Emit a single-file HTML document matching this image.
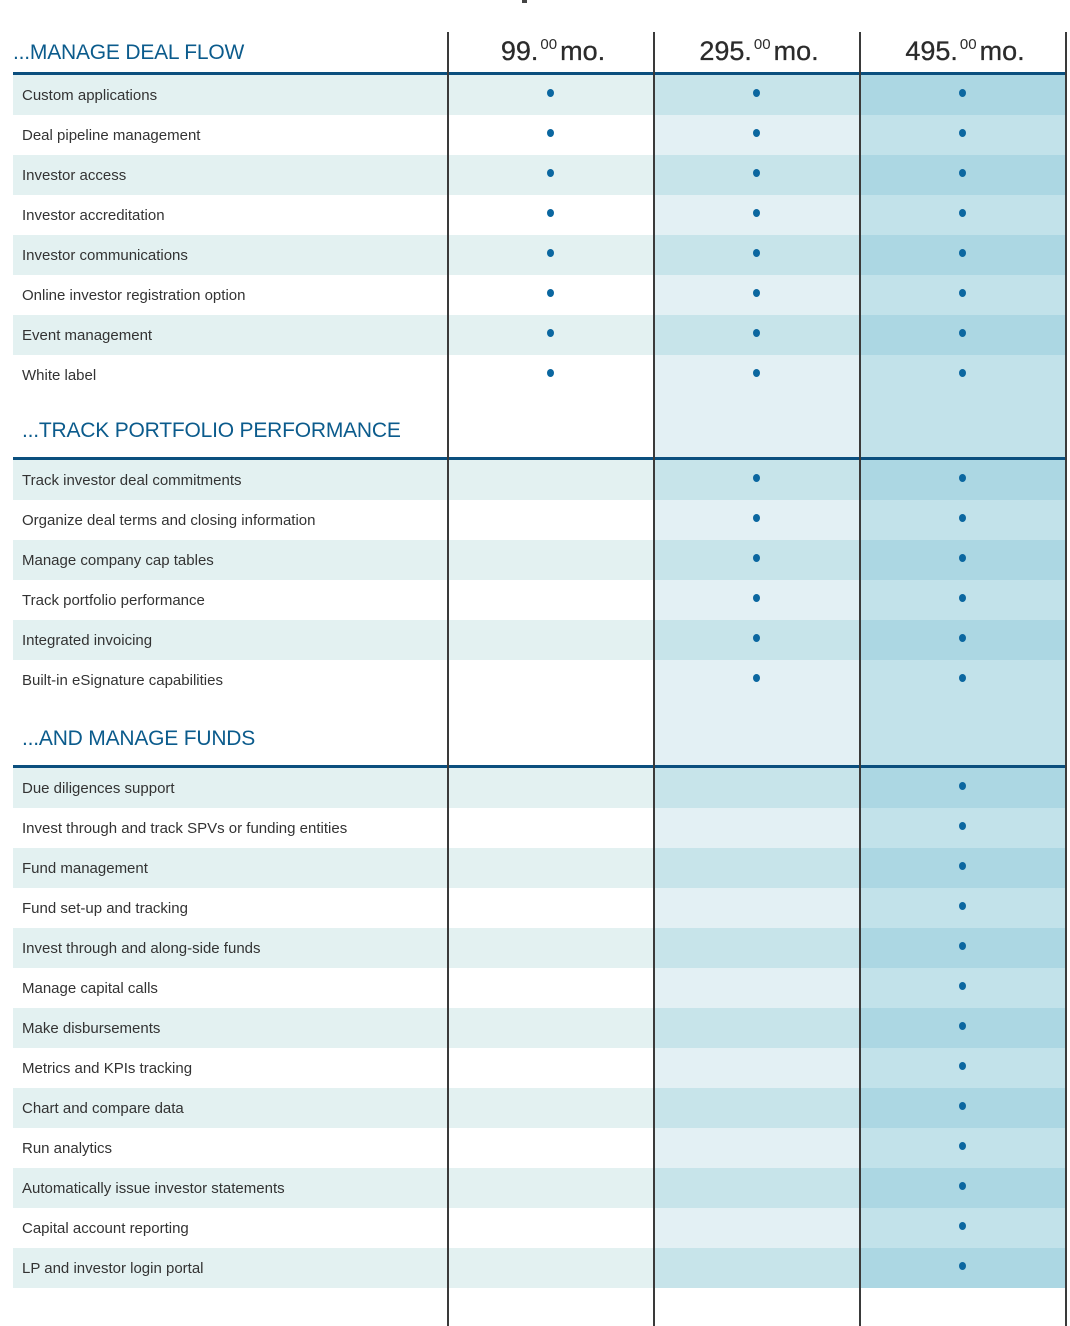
<!DOCTYPE html>
<html><head><meta charset="utf-8">
<style>
html,body{margin:0;padding:0;background:#fff;}
body{width:1070px;height:1326px;position:relative;overflow:hidden;font-family:"Liberation Sans",sans-serif;}
.abs{position:absolute;}
.row-label{position:absolute;left:22px;font-size:15px;color:#333;line-height:20px;white-space:nowrap;}
.sec-title{position:absolute;left:22px;font-size:21px;color:#0b5b8c;white-space:nowrap;letter-spacing:-0.2px;}
.price{position:absolute;top:36px;width:206px;text-align:center;font-size:27px;color:#2b2b2b;-webkit-text-stroke:0.3px #2b2b2b;}
.price sup{font-size:15px;vertical-align:0;position:relative;top:-11px;margin:0 3px 0 2px;-webkit-text-stroke:0;}
.dot{position:absolute;width:7px;height:8px;border-radius:50%;background:#0b67a0;}
.vline{position:absolute;top:32px;width:2px;height:1294px;background:#3a3a3a;}
</style></head><body>
<div class="abs" style="left:522px;top:0;width:5px;height:3px;background:#444"></div>
<div id="grid"></div>
<script>
const sectionTitles=["...MANAGE DEAL FLOW","...TRACK PORTFOLIO PERFORMANCE","...AND MANAGE FUNDS"];
const prices=["99.","295.","495."];
const sec1=["Custom applications","Deal pipeline management","Investor access","Investor accreditation","Investor communications","Online investor registration option","Event management","White label"];
const sec2=["Track investor deal commitments","Organize deal terms and closing information","Manage company cap tables","Track portfolio performance","Integrated invoicing","Built-in eSignature capabilities"];
const sec3=["Due diligences support","Invest through and track SPVs or funding entities","Fund management","Fund set-up and tracking","Invest through and along-side funds","Manage capital calls","Make disbursements","Metrics and KPIs tracking","Chart and compare data","Run analytics","Automatically issue investor statements","Capital account reporting","LP and investor login portal"];
const minTier=[0,1,2];

const g=document.getElementById('grid');
const colX=[448,654,860];const colW=206;const endX=1066;
const shadeCol=[["#e3f1f1","#ffffff"],["#c7e4ea","#e3f0f4"],["#acd7e3","#c2e2ea"]];
function box(x,y,w,h,c,name){const d=document.createElement('div');d.className='abs';d.style.cssText=`left:${x}px;top:${y}px;width:${w}px;height:${h}px;background:${c}`;


g.appendChild(d);return d;}

const sections=[sec1,sec2,sec3];
const rowH=40;
const starts=[74,459,767];
const secHeadTops=[32,391,699];
sections.forEach((rows,s)=>{
  if(s>0){
    const ht=secHeadTops[s],hh=starts[s]-ht;
    box(colX[1],ht,colW,hh,shadeCol[1][1],'section-header-fill');
    box(colX[2],ht,endX-colX[2],hh,shadeCol[2][1],'section-header-fill');
  }
  const t=document.createElement('div');t.className='sec-title';
  t.textContent=sectionTitles[s];
  t.style.top=(s===0?41:starts[s]-40)+'px';
  if(s===0)t.style.left='13px';
  
  
  g.appendChild(t);
  box(13,starts[s]-2,endX-13,3,'#0b4f7e','section-divider');
  rows.forEach((label,i)=>{
    const y=starts[s]+1+i*rowH;const alt=i%2;
    if(alt===0) box(13,y,colX[0]-13,rowH,shadeCol[0][0],'row-shade');
    box(colX[0],y,colW,rowH,shadeCol[0][alt],'row-fill');
    box(colX[1],y,colW,rowH,shadeCol[1][alt],'row-fill');
    box(colX[2],y,endX-colX[2],rowH,shadeCol[2][alt],'row-fill');
    const l=document.createElement('div');l.className='row-label';l.textContent=label;l.style.top=(y+11)+'px';
    
    
    g.appendChild(l);
    for(let c=minTier[s];c<3;c++){
      const d=document.createElement('div');d.className='dot';
      d.style.left=(colX[c]+colW/2-4)+'px';d.style.top=(y+14)+'px';
      
      
      g.appendChild(d);
    }
  });
});
box(13,72,endX-13,3,'#0b4f7e','header-divider');
prices.forEach((p,i)=>{
  const d=document.createElement('div');d.className='price';d.style.left=(colX[i]+2)+'px';
  d.innerHTML=p+'<sup>00</sup>mo.';
  
  
  g.appendChild(d);
});
[447,653,859,1065].forEach(x=>{const v=document.createElement('div');v.className='vline';v.style.left=x+'px';


g.appendChild(v);});
</script>
</body></html>
